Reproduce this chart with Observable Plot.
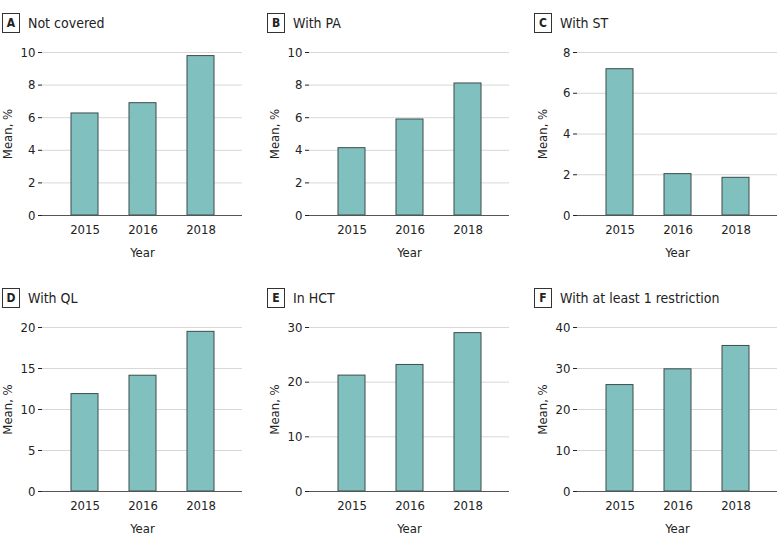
<!DOCTYPE html>
<html>
<head>
<meta charset="utf-8">
<script src="https://cdn.jsdelivr.net/npm/d3@7"></script>
<script src="https://cdn.jsdelivr.net/npm/@observablehq/plot@0.6"></script>
<style>
  body { margin: 0; background: #fff; }
  #root { position: relative; width: 783px; height: 545px; font-family: "DejaVu Sans Condensed", "DejaVu Sans", sans-serif; }
  .panel { position: absolute; }
  .tag { position: absolute; width: 18px; height: 20px; border: 1px solid #333; box-sizing: border-box;
         font: bold 12px "DejaVu Sans Condensed", "DejaVu Sans", sans-serif; color: #222; display: flex; align-items: center; justify-content: center; }
  .title { position: absolute; font: 14px "DejaVu Sans Condensed", "DejaVu Sans", sans-serif; color: #222; white-space: nowrap; line-height: 1; }
</style>
</head>
<body>
<div id="root"></div>
<script>
const years = ["2015", "2016", "2018"];
const panelLetters = ["A", "B", "C", "D", "E", "F"];
const panelTitles = ["Not covered", "With PA", "With ST", "With QL", "In HCT", "With at least 1 restriction"];
const notCovered = [6.26, 6.89, 9.78];
const withPA = [4.13, 5.89, 8.10];
const withST = [7.18, 2.03, 1.85];
const withQL = [11.88, 14.12, 19.47];
const inHCT = [21.2, 23.15, 28.97];
const atLeast1 = [25.96, 29.8, 35.5];
const yMax = [10, 10, 8, 20, 30, 40];
const yTickStep = [2, 2, 2, 5, 10, 10];

const series = [notCovered, withPA, withST, withQL, inHCT, atLeast1];
const colLeft = [0, 267, 535];
const tagLeft = [2, 267, 534];
const rowTop = [40, 315];
const tagTop = [13, 288];

const root = document.getElementById("root");
const FONT = "'DejaVu Sans Condensed', 'DejaVu Sans', sans-serif";

series.forEach((vals, i) => {
  const col = i % 3, row = Math.floor(i / 3);
  const data = years.map((y, j) => ({year: y, value: vals[j]}));
  const ticks = d3.range(0, yMax[i] + 0.001, yTickStep[i]);
  const chart = Plot.plot({
    width: 245,
    height: row === 0 ? 220 : 221,
    marginLeft: 42,
    marginRight: 3,
    marginTop: 12,
    marginBottom: 45,
    style: {fontFamily: FONT, fontSize: "13px", color: "#222", background: "transparent"},
    x: {type: "band", domain: years, paddingInner: 0.54, paddingOuter: 0.47},
    y: {domain: [0, yMax[i]]},
    marks: [
      Plot.gridY(ticks, {stroke: "#d8d8d8", strokeOpacity: 1}),
      Plot.barY(data, {x: "year", y: "value", fill: "#80c1bf", stroke: "#3d4b4b", strokeWidth: 1}),
      Plot.ruleY([0], {stroke: "#555"}),
      Plot.axisX({tickSize: 0, tickPadding: 9, label: "Year", labelAnchor: "center", labelArrow: "none", labelOffset: 41, fontSize: 13}),
      Plot.axisY({ticks: ticks, tickSize: 4, tickPadding: 3, label: "Mean, %", labelAnchor: "center", labelArrow: "none", labelOffset: 40, fontSize: 13})
    ]
  });
  const wrap = document.createElement("div");
  wrap.className = "panel";
  wrap.style.left = colLeft[col] + "px";
  wrap.style.top = rowTop[row] + "px";
  wrap.appendChild(chart);
  root.appendChild(wrap);

  const tag = document.createElement("div");
  tag.className = "tag";
  tag.style.left = tagLeft[col] + "px";
  tag.style.top = tagTop[row] + "px";
  tag.textContent = panelLetters[i];
  root.appendChild(tag);

  const title = document.createElement("div");
  title.className = "title";
  title.style.left = (tagLeft[col] + 26) + "px";
  title.style.top = (tagTop[row] + 3) + "px";
  title.textContent = panelTitles[i];
  root.appendChild(title);
});
</script>
</body>
</html>
